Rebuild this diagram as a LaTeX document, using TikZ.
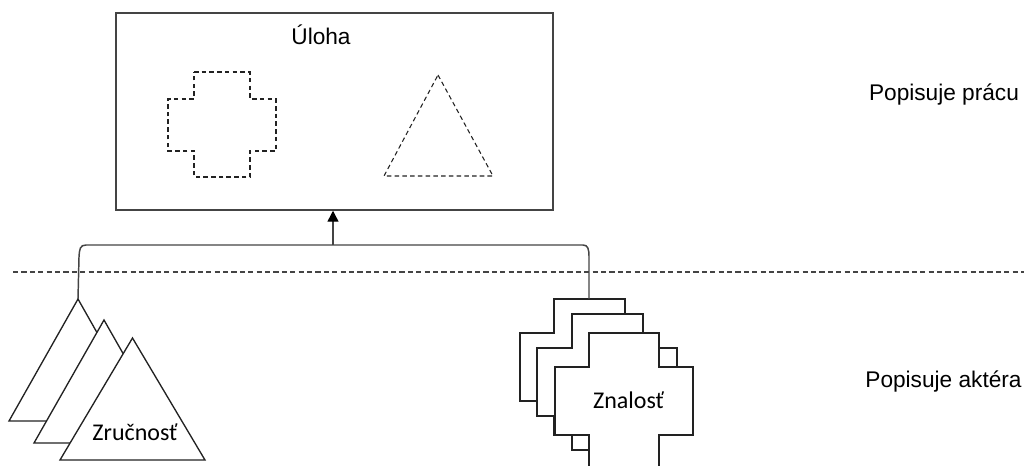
\documentclass[tikz,border=0pt]{standalone}
\usepackage{fontspec}
\setmainfont{Liberation Sans}
\newfontfamily\calib{Carlito}
\usetikzlibrary{arrows.meta}
\definecolor{boxgray}{HTML}{444444}
\definecolor{shapeblk}{HTML}{222222}
\begin{document}
\begin{tikzpicture}[x=0.75pt,y=-0.75pt,
  framebox/.style={draw=boxgray,line width=1.1pt},
  link/.style={draw=boxgray,line width=1.1pt},
  solidshape/.style={draw=shapeblk,line width=1pt,fill=white,line join=miter},
  ghost/.style={draw=shapeblk,line width=0.8pt,dash pattern=on 3.4pt off 2.4pt},
  sep/.style={draw=boxgray,line width=0.9pt,dash pattern=on 3.9pt off 2.4pt},
  arial/.style={font=\fontsize{17}{20}\selectfont,inner sep=0pt,anchor=base},
  calibtext/.style={font=\calib\fontsize{18}{21}\selectfont,inner sep=0pt,anchor=base}]
\useasboundingbox (0,0) rectangle (1024,465);

% task box
\node[framebox,minimum width=327.75pt,minimum height=147.75pt,inner sep=0pt] (task) at (334.5,111.5) {};
\node[arial] (uloha) at (321,44) {Úloha};

% dashed cross in the task box
\draw[ghost] (194,72) -- ++(56,0) -- ++(0,27) -- ++(26,0) -- ++(0,52) -- ++(-26,0) -- ++(0,26)
  -- ++(-56,0) -- ++(0,-26) -- ++(-26,0) -- ++(0,-52) -- ++(26,0) -- cycle;
% dashed triangle in the task box
\draw[ghost] (438,75) -- (493,176) -- (384,176) -- cycle;

% side labels
\node[arial] (prace) at (944,100) {Popisuje prácu};
\node[arial] (aktera) at (943.5,387) {Popisuje aktéra};

% separator
\coordinate (sepL) at (13,272);
\coordinate (sepR) at (1024,272);
\draw[sep] (sepL) -- (sepR);

% skill triangles
\coordinate (t1) at (78,299);
\draw[solidshape] (t1) -- (147,421) -- (9,421) -- cycle;
\draw[solidshape] (104,320) -- (174,443) -- (34,443) -- cycle;
\draw[solidshape] (132.5,338) -- (205,460) -- (60,460) -- cycle;
\node[calibtext] (zrucnost) at (135,440) {Zručnosť};

% knowledge crosses
\coordinate (c1) at (589,299);
\draw[solidshape] (554,299) -- ++(71,0) -- ++(0,34) -- ++(34,0) -- ++(0,68) -- ++(-34,0) -- ++(0,34)
  -- ++(-71,0) -- ++(0,-34) -- ++(-34,0) -- ++(0,-68) -- ++(34,0) -- cycle;
\draw[solidshape] (572,314) -- ++(71,0) -- ++(0,34) -- ++(34,0) -- ++(0,68) -- ++(-34,0) -- ++(0,34)
  -- ++(-71,0) -- ++(0,-34) -- ++(-35,0) -- ++(0,-68) -- ++(35,0) -- cycle;
\draw[solidshape] (589,333) -- ++(70,0) -- ++(0,34) -- ++(34,0) -- ++(0,68) -- ++(-34,0) -- ++(0,34)
  -- ++(-70,0) -- ++(0,-34) -- ++(-34,0) -- ++(0,-68) -- ++(34,0) -- cycle;
\node[calibtext] (znalost) at (628.5,408) {Znalosť};

% bracket joining the two kinds of actor descriptions
\coordinate (join) at (333,245);
\draw[link] (t1) -- (79,257) .. controls (79.5,249) and (80,245) .. (86,245)
  -- (583,245) .. controls (588,245) and (589,249) .. (589,257) -- (c1);
\draw[link,-{Triangle[width=8.25pt,length=8.25pt,color=black]}] (join) -- (task.south -| join);
\end{tikzpicture}
\end{document}
